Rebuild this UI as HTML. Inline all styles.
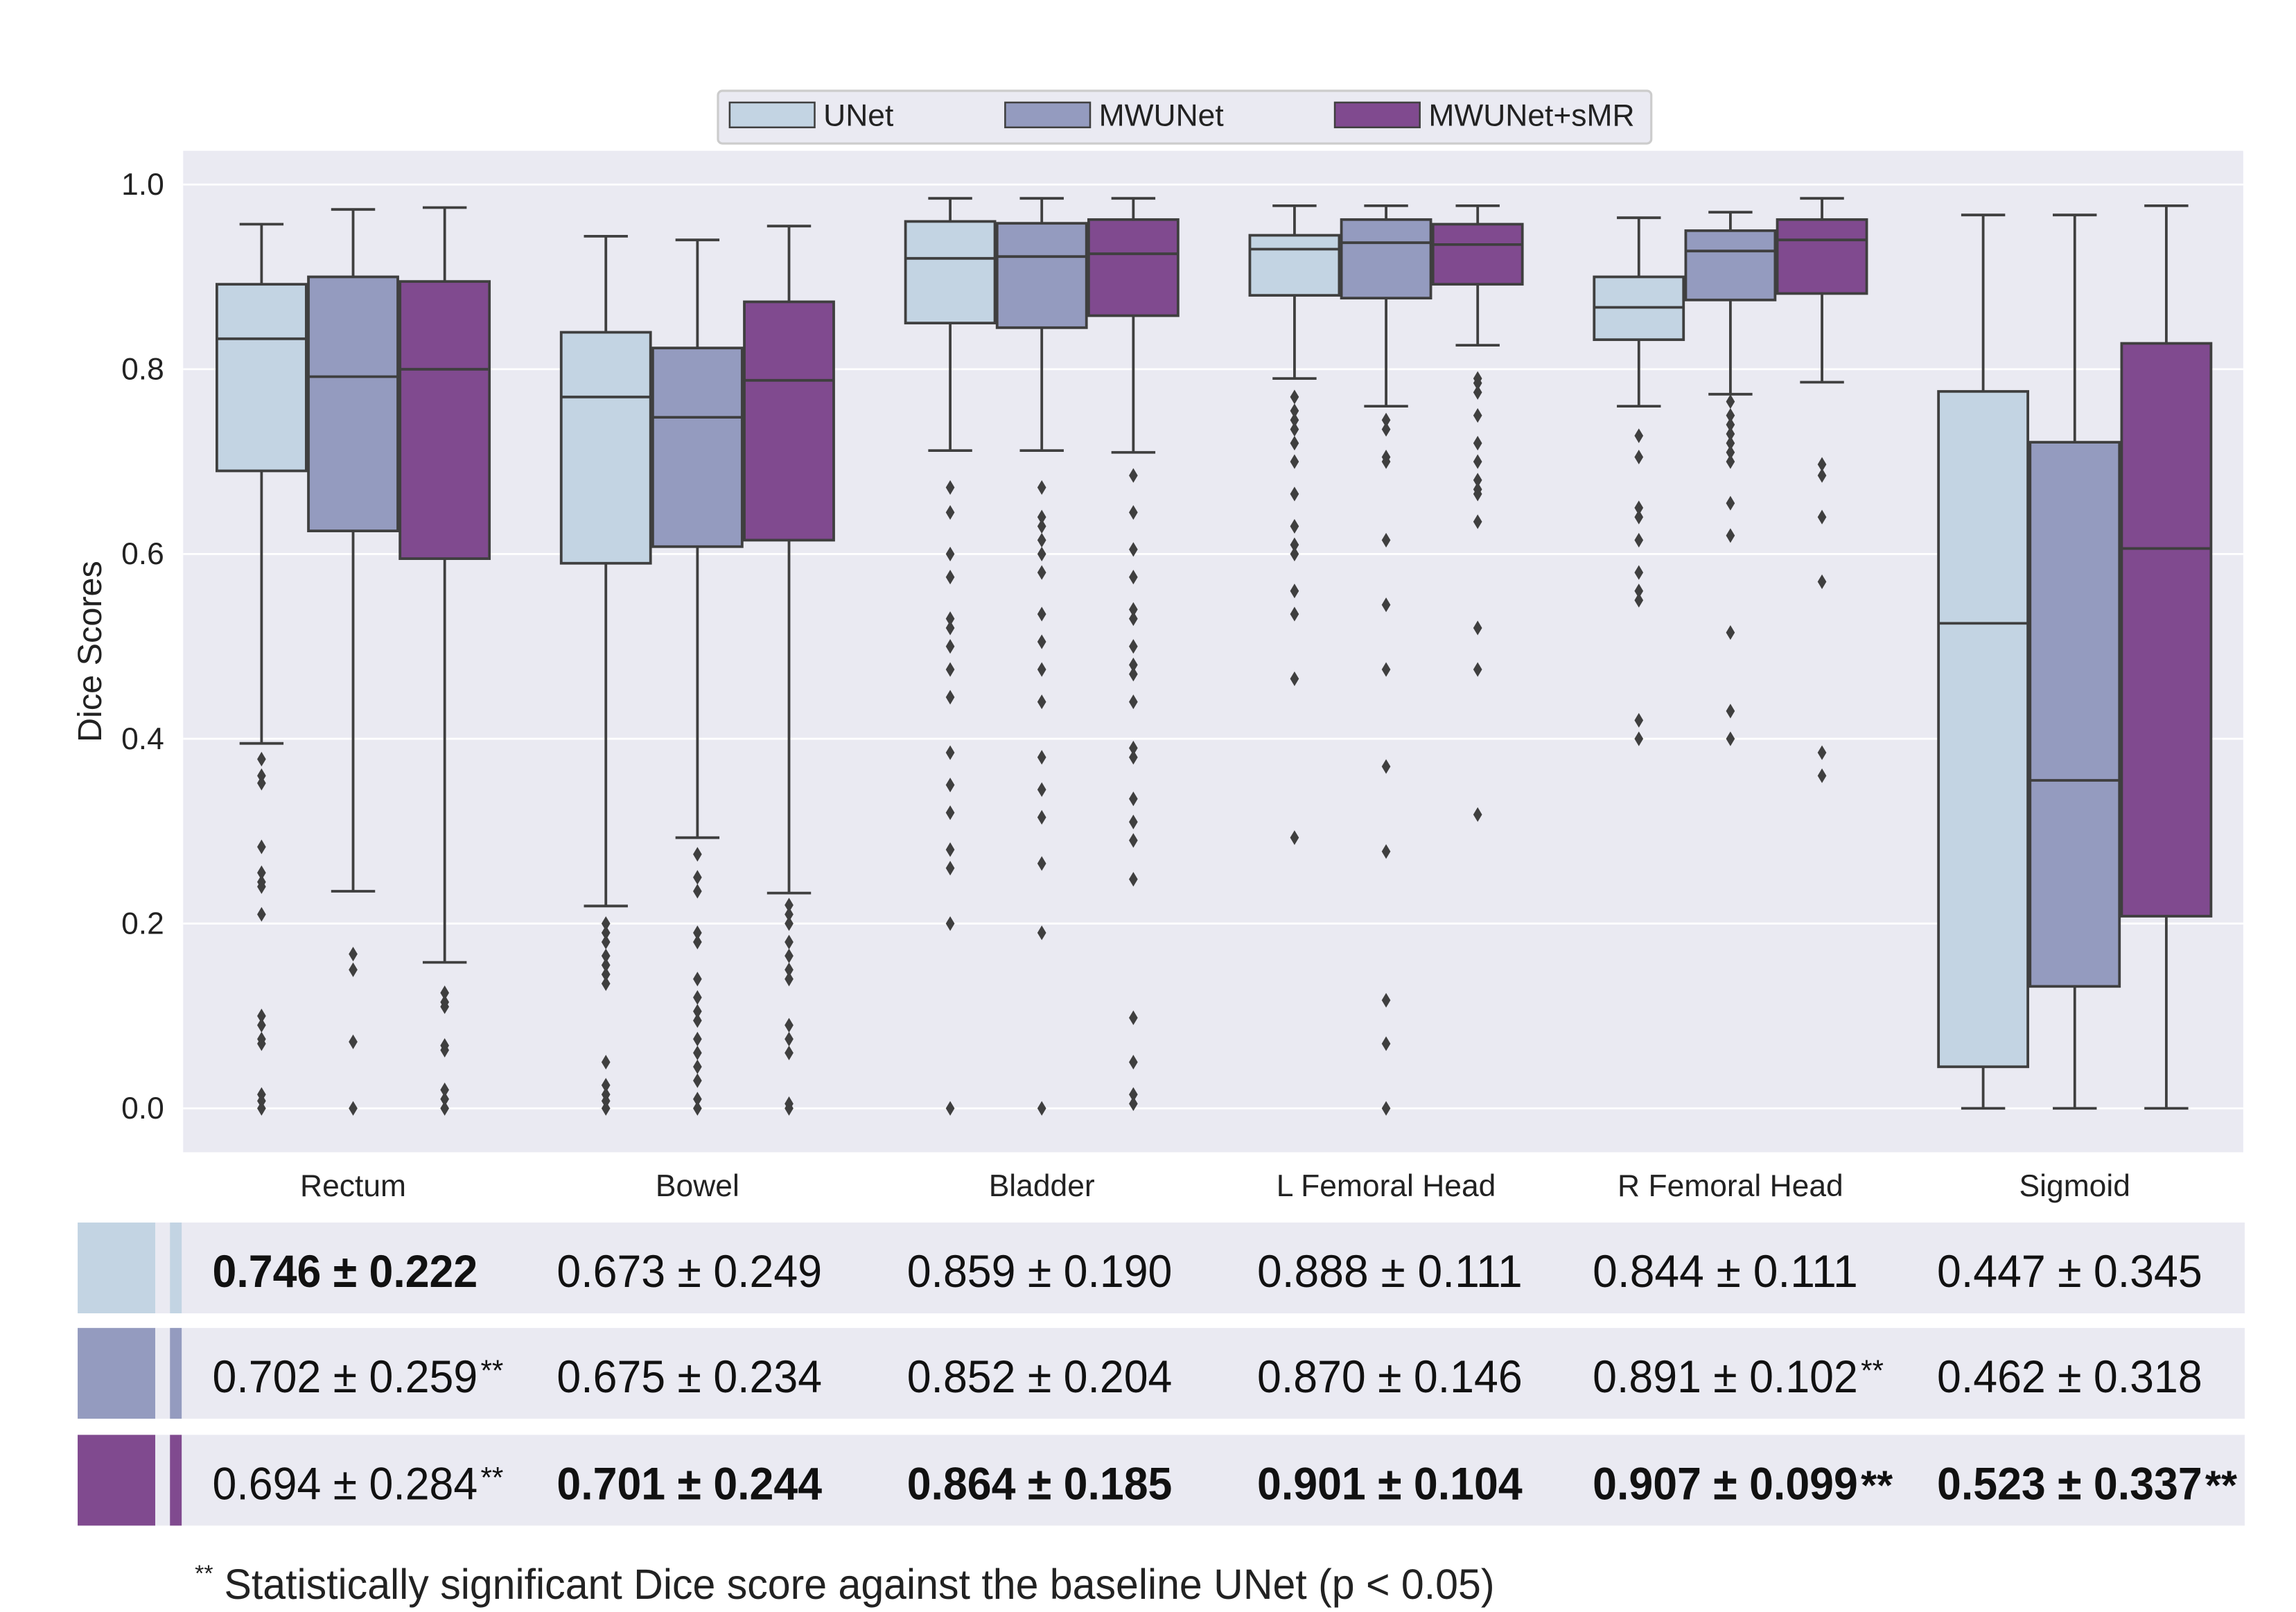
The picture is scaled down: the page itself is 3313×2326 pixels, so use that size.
<!DOCTYPE html>
<html><head><meta charset="utf-8"><style>
html,body{margin:0;padding:0;background:#fff;}
svg{display:block;}
text{font-family:"Liberation Sans",sans-serif;}
</style></head><body>
<svg id="chart" xmlns="http://www.w3.org/2000/svg" width="3313" height="2326" viewBox="0 0 1567 1101" preserveAspectRatio="none">
<rect x="125" y="103" width="1406" height="684" fill="#EAEAF2"/>
<g id="grid"></g>
<g id="boxes"></g>
<text transform="translate(69,445) rotate(-90)" font-size="23" text-anchor="middle" fill="#222">Dice Scores</text>
<g>
<rect x="490" y="62" width="637" height="36" rx="3" fill="#EAEAF2" stroke="#ccc" stroke-width="1.5"/>
<rect x="498" y="70" width="58" height="17" fill="#C3D4E3" stroke="#3f3f3f" stroke-width="1.2"/>
<text x="562" y="86" font-size="21" fill="#222">UNet</text>
<rect x="686" y="70" width="58" height="17" fill="#949BBF" stroke="#3f3f3f" stroke-width="1.2"/>
<text x="750" y="86" font-size="21" fill="#222">MWUNet</text>
<rect x="911" y="70" width="58" height="17" fill="#804A8F" stroke="#3f3f3f" stroke-width="1.2"/>
<text x="975" y="86" font-size="21" fill="#222">MWUNet+sMR</text>
</g>
<g id="table"></g>
<text x="133" y="1092" font-size="29" fill="#222" font-weight="300"><tspan font-size="16" dy="-12">**</tspan><tspan dy="12" x="153" textLength="867" lengthAdjust="spacingAndGlyphs">Statistically significant Dice score against the baseline UNet (p &lt; 0.05)</tspan></text>
</svg>
<script>
const categories = ["Rectum","Bowel","Bladder","L Femoral Head","R Femoral Head","Sigmoid"];
const models = ["UNet","MWUNet","MWUNet+sMR"];
const yTicks = [0.0,0.2,0.4,0.6,0.8,1.0];
// [whiskerLow, q1, median, q3, whiskerHigh] per category per model
const statsUNet = [[0.395,0.690,0.833,0.892,0.957],[0.219,0.590,0.770,0.840,0.944],[0.712,0.850,0.920,0.960,0.985],[0.790,0.880,0.930,0.945,0.977],[0.760,0.832,0.867,0.900,0.964],[0.0,0.045,0.525,0.776,0.967]];
const statsMWUNet = [[0.235,0.625,0.792,0.900,0.973],[0.293,0.608,0.748,0.823,0.940],[0.712,0.845,0.922,0.958,0.985],[0.760,0.877,0.937,0.962,0.977],[0.773,0.875,0.928,0.950,0.970],[0.0,0.132,0.355,0.721,0.967]];
const statsSMR = [[0.158,0.595,0.800,0.895,0.975],[0.233,0.615,0.788,0.873,0.955],[0.710,0.858,0.925,0.962,0.985],[0.826,0.892,0.935,0.957,0.977],[0.786,0.882,0.940,0.962,0.985],[0.0,0.208,0.606,0.828,0.977]];
const outUNet = [[0.378,0.36,0.352,0.283,0.255,0.245,0.24,0.21,0.10,0.09,0.075,0.07,0.015,0.008,0],[0.2,0.19,0.18,0.165,0.155,0.145,0.135,0.05,0.025,0.015,0.008,0],[0.672,0.645,0.6,0.575,0.53,0.52,0.5,0.475,0.445,0.385,0.35,0.32,0.28,0.26,0.2,0],[0.77,0.755,0.745,0.735,0.72,0.70,0.665,0.63,0.61,0.6,0.56,0.535,0.465,0.293],[0.728,0.705,0.65,0.64,0.615,0.58,0.56,0.55,0.42,0.4],[]];
const outMWUNet = [[0.167,0.15,0.072,0],[0.275,0.25,0.235,0.19,0.18,0.14,0.12,0.105,0.095,0.075,0.06,0.045,0.03,0.01,0],[0.672,0.64,0.63,0.615,0.6,0.58,0.535,0.505,0.475,0.44,0.38,0.345,0.315,0.265,0.19,0],[0.745,0.735,0.705,0.70,0.615,0.545,0.475,0.37,0.278,0.117,0.07,0],[0.765,0.75,0.74,0.73,0.72,0.71,0.70,0.655,0.62,0.515,0.43,0.4],[]];
const outSMR = [[0.125,0.115,0.11,0.068,0.063,0.02,0.01,0],[0.22,0.21,0.2,0.18,0.165,0.15,0.14,0.09,0.075,0.06,0.005,0],[0.685,0.645,0.605,0.575,0.54,0.53,0.5,0.48,0.47,0.44,0.39,0.38,0.335,0.31,0.29,0.248,0.098,0.05,0.015,0.005],[0.79,0.785,0.775,0.75,0.72,0.70,0.68,0.67,0.665,0.635,0.52,0.475,0.318],[0.697,0.685,0.64,0.57,0.385,0.36],[]];
const tableUNet = ["0.746 ± 0.222","0.673 ± 0.249","0.859 ± 0.190","0.888 ± 0.111","0.844 ± 0.111","0.447 ± 0.345"];
const tableMWUNet = ["0.702 ± 0.259**","0.675 ± 0.234","0.852 ± 0.204","0.870 ± 0.146","0.891 ± 0.102**","0.462 ± 0.318"];
const tableSMR = ["0.694 ± 0.284**","0.701 ± 0.244","0.864 ± 0.185","0.901 ± 0.104","0.907 ± 0.099**","0.523 ± 0.337**"];
const boldUNet = [true,false,false,false,false,false];
const boldMWUNet = [false,false,false,false,false,false];
const boldSMR = [false,true,true,true,true,true];

const colors = ["#C3D4E3","#949BBF","#804A8F"];
const NS="http://www.w3.org/2000/svg";
const y = v => 757 - v*631;
const xCat = i => 241 + i*235;
const xBox = (i,m) => xCat(i) + (m-1)*62.5;
function mk(tag, attrs, parent){const e=document.createElementNS(NS,tag);for(const k in attrs)e.setAttribute(k,attrs[k]);parent.appendChild(e);return e;}
const grid=document.getElementById('grid');
yTicks.forEach(t=>{
  const l=mk('line',{x1:125,x2:1531,y1:y(t),y2:y(t),stroke:'#fff','stroke-width':1.3},grid);
  
  
  const tx=mk('text',{x:112,y:y(t)+7,'font-size':21,'text-anchor':'end',fill:'#222'},grid);
  tx.textContent=t.toFixed(1);
  
  
});
const boxes=document.getElementById('boxes');
const stats=[statsUNet,statsMWUNet,statsSMR];
const outs=[outUNet,outMWUNet,outSMR];
const ln={stroke:'#3f3f3f','stroke-width':1.8};
categories.forEach((c,i)=>{
  const lab=mk('text',{x:xCat(i),y:817,'font-size':21,'text-anchor':'middle',fill:'#222'},boxes);
  lab.textContent=c;
  
  
  for(let m=0;m<3;m++){
    const [lo,q1,md,q3,hi]=stats[m][i];
    const cx=xBox(i,m), w=61;
    const g=mk('g',{},boxes);
    
    
    mk('line',Object.assign({x1:cx,x2:cx,y1:y(hi),y2:y(q3)},ln),g);
    mk('line',Object.assign({x1:cx,x2:cx,y1:y(q1),y2:y(lo)},ln),g);
    mk('line',Object.assign({x1:cx-15,x2:cx+15,y1:y(hi),y2:y(hi)},ln),g);
    mk('line',Object.assign({x1:cx-15,x2:cx+15,y1:y(lo),y2:y(lo)},ln),g);
    mk('rect',Object.assign({x:cx-w/2,y:y(q3),width:w,height:y(q1)-y(q3),fill:colors[m]},ln),g);
    mk('line',Object.assign({x1:cx-w/2,x2:cx+w/2,y1:y(md),y2:y(md)},ln),g);
    outs[m][i].forEach(v=>{
      const p=mk('path',{d:`M${cx},${y(v)-5} L${cx+3},${y(v)} L${cx},${y(v)+5} L${cx-3},${y(v)} Z`,fill:'#3f3f3f'},g);
      
      
    });
  }
});
const table=document.getElementById('table');
const tvals=[tableUNet,tableMWUNet,tableSMR];
const tbold=[boldUNet,boldMWUNet,boldSMR];
const rowY=[835,907,980];
const colX=[145,380,619,858,1087,1322];
for(let r=0;r<3;r++){
  const g=mk('g',{},table);
  
  
  mk('rect',{x:53,y:rowY[r],width:53,height:62,fill:colors[r]},g);
  mk('rect',{x:106,y:rowY[r],width:1426,height:62,fill:'#EAEAF2'},g);
  mk('rect',{x:116,y:rowY[r],width:8,height:62,fill:colors[r]},g);
  tvals[r].forEach((s,i)=>{
    const star=s.endsWith('**');
    const base=star?s.slice(0,-2):s;
    const t=mk('text',{x:colX[i],y:rowY[r]+44,'font-size':31,fill:'#111','font-weight':tbold[r][i]?'bold':'normal'},g);
    const a=mk('tspan',{textLength:181,lengthAdjust:'spacingAndGlyphs'},t);
    a.textContent=base;
    if(star){const b=mk('tspan',{'font-size':tbold[r][i]?28:20,dy:tbold[r][i]?0:-8,dx:2},t);b.textContent='**';}
    
    
  });
}
</script>
</body></html>
